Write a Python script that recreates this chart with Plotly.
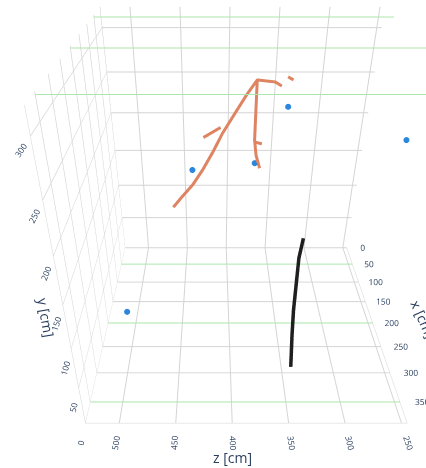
import plotly.graph_objects as go

# ---- data (cm) ----
# reconstructed tracks (orange)
trk1_x = [150, 150, 150, 150, 150, 150, 150, 150, 150, 150, 150, 150]
trk1_y = [136, 149, 164, 182, 203, 224, 245, 264, 279, 278, 277, 273]
trk1_z = [457, 448, 437, 427, 417, 408, 397, 387, 378, 370, 362, 356]

trk2_x = [150, 150, 150, 150, 150]
trk2_y = [279, 248, 216, 199, 184]
trk2_z = [378, 378, 378, 376, 372]

trk3_x = [150, 150]
trk3_y = [219, 230]
trk3_z = [426, 410]

trk4_x = [150, 150]
trk4_y = [282, 279]
trk4_z = [351, 346]

trk5_x = [150, 150]
trk5_y = [214, 212]
trk5_z = [378, 371]

# hits (blue)
hit_x = [150, 150, 150, 250, 300]
hit_y = [182, 190, 252, 251, 86]
hit_z = [437, 377, 349, 262, 494]

# muon track (black)
mu_x = [300, 300, 300, 300, 300, 300]
mu_y = [173, 151, 120, 88, 55, 9]
mu_z = [343, 345, 345, 345, 344, 342]

# detector plane edges (green)
plane_x = [50, 200, 350]
plane_y = [0, 320]
plane_z = [245, 530]

# axis titles (anchored on the box edges)
title_text = ["y [cm]", "z [cm]"]
title_x = [382, 382]
title_y = [141, 1]
title_z = [529, 401]
title_angle = [80, 0]
title_dx = [-20, 1]
title_dy = [-5, -36]

orange = "rgb(222,132,98)"

fig = go.Figure()
for px in plane_x:
    for py in plane_y:
        fig.add_trace(go.Scatter3d(
            x=[px, px], y=[py, py], z=plane_z, mode="lines",
            line=dict(color="rgb(172,230,172)", width=2),
            hoverinfo="skip", showlegend=False))

for tx, ty, tz in [(trk1_x, trk1_y, trk1_z), (trk2_x, trk2_y, trk2_z),
                   (trk3_x, trk3_y, trk3_z), (trk4_x, trk4_y, trk4_z),
                   (trk5_x, trk5_y, trk5_z)]:
    fig.add_trace(go.Scatter3d(x=tx, y=ty, z=tz, mode="lines",
                               line=dict(color=orange, width=6),
                               showlegend=False))

fig.add_trace(go.Scatter3d(x=mu_x, y=mu_y, z=mu_z, mode="lines",
                           line=dict(color="#1f1f1f", width=7),
                           showlegend=False))

fig.add_trace(go.Scatter3d(x=hit_x, y=hit_y, z=hit_z, mode="markers",
                           marker=dict(color="#2b86dc", size=3.5),
                           showlegend=False))

ax_common = dict(showbackground=True, backgroundcolor="white",
                 gridcolor="#d4d4d4", gridwidth=2, zerolinecolor="#d4d4d4",
                 linecolor="#d4d4d4", ticks="", dtick=50,
                 tickfont=dict(color="#2a3f5f", size=10),
                 title_font=dict(color="#2a3f5f", size=14))

annots = [dict(x=ax_, y=ay_, z=az_, text=t, textangle=ang, showarrow=False,
               xshift=dx, yshift=dy,
               font=dict(color="#2a3f5f", size=14))
          for t, ax_, ay_, az_, ang, dx, dy in zip(
              title_text, title_x, title_y, title_z, title_angle,
              title_dx, title_dy)]

fig.update_layout(
    template="plotly_white",
    width=426, height=468,
    margin=dict(l=0, r=0, t=0, b=0),
    showlegend=False,
    scene=dict(
        xaxis=dict(title="x [cm]", range=[0, 383], **ax_common),
        yaxis=dict(title="", range=[0, 322], **ax_common),
        zaxis=dict(title="", range=[245, 530], **ax_common),
        aspectmode="manual",
        aspectratio=dict(x=0.9525, y=1.03, z=1.0),
        camera=dict(
            eye=dict(x=1.6162, y=0.9443, z=0.1035),
            center=dict(x=0.0087, y=-0.1197, z=0.1035),
            up=dict(x=0, y=1, z=0),
            projection=dict(type="perspective"),
        ),
        annotations=annots,
    ),
)

fig.write_html(
    "out.html",
    config={"displayModeBar": False},
    post_script="document.body.style.margin='0px';"
                "document.body.style.overflow='hidden';",
)
